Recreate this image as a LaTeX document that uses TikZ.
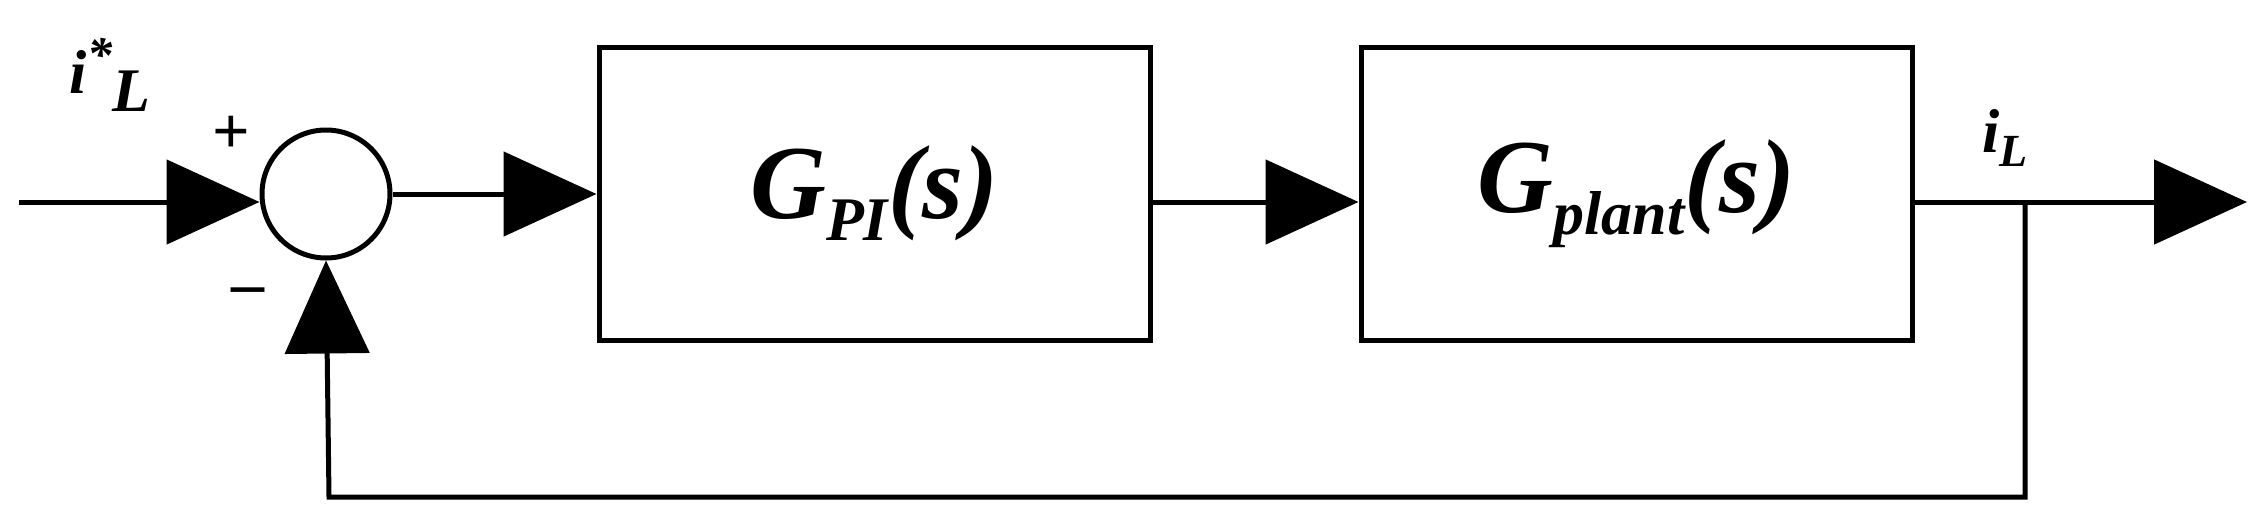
\documentclass[tikz,border=0pt]{standalone}
\usepackage{fontspec}
\setmainfont{Liberation Serif}
\usetikzlibrary{arrows.meta}
\begin{document}
\begin{tikzpicture}[x=1pt,y=-1pt,
  ln/.style={line width=5pt},
  tri/.style={-{Triangle[length=93pt,width=84pt]}},
  blk/.style={draw,line width=5pt,minimum width=551pt,minimum height=293pt,inner sep=0pt,font=\bfseries\itshape\fontsize{105}{110}\selectfont},
  lbl/.style={font=\bfseries\itshape\fontsize{62}{66}\selectfont,inner sep=0pt}]
\useasboundingbox (0,0) rectangle (2251,520);
\node[draw,ln,circle,minimum size=128pt,inner sep=0pt] (sum) at (326,194) {};
\node[blk] (b1) at (874.5,193.5) {G\raisebox{-22pt}{\fontsize{62}{62}\selectfont PI}(s)};
\node[blk] (b2) at (1636.5,193.5) {G\raisebox{-22pt}{\fontsize{62}{62}\selectfont plant}(s)};
\coordinate (in) at (19,202);
\coordinate (out) at (2247,202);
\coordinate (br) at (2025,202);
\coordinate (bl) at (2025,497);
\coordinate (fl) at (329,497);
\draw[ln,tri] (in) -- (in -| sum.west);
\draw[ln,tri] (sum.east) -- (sum.east -| b1.west);
\draw[ln,tri] (b1.east |- in) -- (b2.west |- in);
\draw[ln,tri] (b2.east |- in) -- (out);
\draw[ln,tri] (br) -- (bl) -- (fl) -- (sum.south);
\node[lbl] (ref) at (110,75) {i\raisebox{22pt}{\fontsize{50}{50}\selectfont *}\raisebox{-18pt}{L}};
\node[lbl,font=\bfseries\fontsize{66}{66}\selectfont] (plus) at (231,135) {+};
\node[lbl,font=\bfseries\fontsize{66}{66}\selectfont] (minus) at (248,297) {\char"2013};
\node[lbl] (il) at (2005,138) {i\raisebox{-14pt}{\fontsize{46}{46}\selectfont L}};
\end{tikzpicture}
\end{document}
